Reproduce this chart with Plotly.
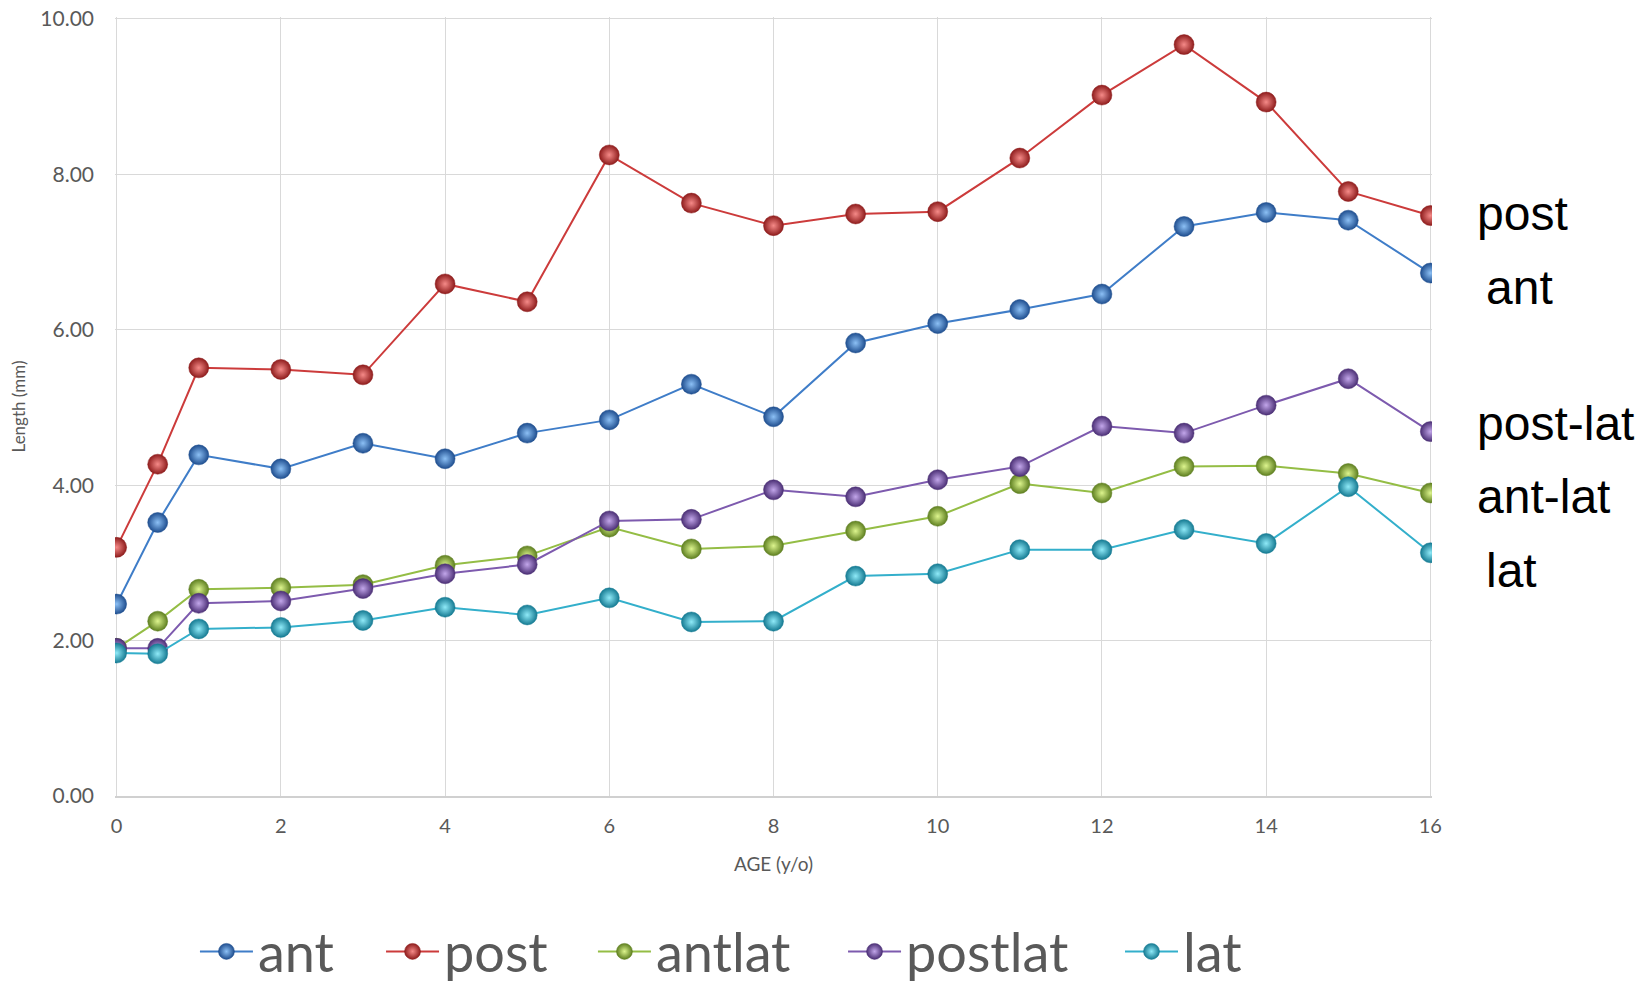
import plotly.graph_objects as go

age = [0, 0.5, 1, 2, 3, 4, 5, 6, 7, 8, 9, 10, 11, 12, 13, 14, 15, 16]

ant = [2.47, 3.52, 4.39, 4.21, 4.54, 4.34, 4.67, 4.84, 5.30, 4.88, 5.83, 6.08, 6.26, 6.46, 7.33, 7.51, 7.41, 6.73]
post = [3.20, 4.27, 5.51, 5.49, 5.42, 6.59, 6.36, 8.25, 7.63, 7.34, 7.49, 7.52, 8.21, 9.02, 9.67, 8.93, 7.78, 7.47]
antlat = [1.90, 2.25, 2.66, 2.68, 2.72, 2.97, 3.09, 3.46, 3.18, 3.22, 3.41, 3.60, 4.02, 3.90, 4.24, 4.25, 4.15, 3.90]
postlat = [1.90, 1.90, 2.48, 2.51, 2.67, 2.86, 2.98, 3.54, 3.56, 3.94, 3.85, 4.07, 4.24, 4.76, 4.67, 5.03, 5.37, 4.69]
lat = [1.84, 1.83, 2.15, 2.17, 2.26, 2.43, 2.33, 2.55, 2.24, 2.25, 2.83, 2.86, 3.17, 3.17, 3.43, 3.25, 3.98, 3.13]

series = [
    ("ant", ant, "#3F7DC8", "#8CC0F5", "#1F4E8F"),
    ("post", post, "#CC3B3B", "#F58A88", "#8E1C1C"),
    ("antlat", antlat, "#94BD45", "#DDF58E", "#5E7F20"),
    ("postlat", postlat, "#7D5AAE", "#C2A6EA", "#4B2F75"),
    ("lat", lat, "#33AFCB", "#8FEAF8", "#157A92"),
]

right_labels = ["post", "ant", "post-lat", "ant-lat", "lat"]
right_label_y = [7.50, 6.55, 4.80, 3.85, 2.90]
right_label_dx = [0, 9, 0, 0, 9]

# horizontal position (paper) of each legend entry
legend_x = [0.0607, 0.2020, 0.3629, 0.5528, 0.7631]

fig = go.Figure()
for i, (name, vals, lc, mc, gc) in enumerate(series):
    fig.add_trace(go.Scatter(
        x=age, y=vals, name=name, mode="lines+markers",
        line=dict(color=lc, width=2),
        marker=dict(size=20, color=gc,
                    gradient=dict(type="radial", color=mc),
                    line=dict(color=gc, width=0.5)),
        legend="legend" if i == 0 else f"legend{i+1}",
    ))

for txt, yv, dx in zip(right_labels, right_label_y, right_label_dx):
    fig.add_annotation(
        x=1.0, xref="paper", y=yv, yref="y", text=txt, showarrow=False,
        xanchor="left", yanchor="middle", xshift=43 + dx,
        font=dict(family="Liberation Sans, Arial", size=48, color="#000000"),
    )

legend_common = dict(orientation="h", xanchor="left", y=-0.200, yanchor="middle",
                     font=dict(size=54, color="#595959"), itemwidth=53,
                     bgcolor="rgba(0,0,0,0)")
layout_legends = {}
for i, lx in enumerate(legend_x):
    key = "legend" if i == 0 else f"legend{i+1}"
    layout_legends[key] = dict(legend_common, x=lx)

fig.update_layout(
    width=1652, height=985,
    margin=dict(l=107, r=228, t=9, b=197, autoexpand=False),
    paper_bgcolor="white", plot_bgcolor="white",
    font=dict(family="Lato, Open Sans, sans-serif", color="#595959"),
    showlegend=True,
    xaxis=dict(range=[-0.02, 16.02], tickvals=[0, 2, 4, 6, 8, 10, 12, 14, 16],
               showgrid=True, gridcolor="#D9D9D9", gridwidth=1,
               zeroline=False, showline=True, linecolor="#D0D0D0", linewidth=1.5,
               tickfont=dict(size=20, color="#595959"), ticks="", ticklabelstandoff=11,
               ticklabeloverflow="allow",
               title=dict(text="AGE (y/o)", font=dict(size=19, color="#595959"), standoff=22)),
    yaxis=dict(range=[0, 10.025], tickvals=[0, 2, 4, 6, 8, 10],
               ticktext=["0.00", "2.00", "4.00", "6.00", "8.00", "10.00"],
               showgrid=True, gridcolor="#D9D9D9", gridwidth=1,
               zeroline=False, showline=False, ticks="", ticklabelstandoff=20,
               ticklabeloverflow="allow",
               tickfont=dict(size=21, color="#595959"),
               title=dict(text="Length (mm)", font=dict(size=17, color="#595959"), standoff=25)),
    **layout_legends,
)

fig.write_html("out.html")
